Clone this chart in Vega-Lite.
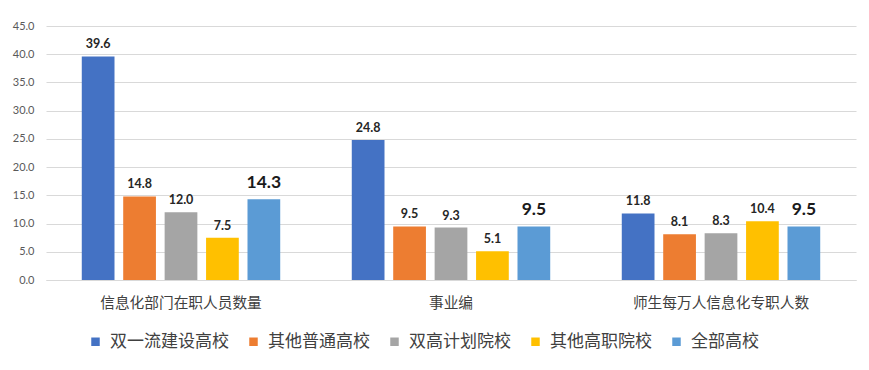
{
  "$schema": "https://vega.github.io/schema/vega-lite/v6.json",
  "autosize": "none",
  "width": 810,
  "height": 254,
  "padding": {"left": 46, "top": 26, "right": 13, "bottom": 90},
  "background": "white",
  "config": {
    "view": {"stroke": null},
    "font": "Noto Sans CJK SC"
  },
  "data": {
    "values": [
      {"category": "信息化部门在职人员数量", "series": "双一流建设高校", "value": 39.6},
      {"category": "信息化部门在职人员数量", "series": "其他普通高校", "value": 14.8},
      {"category": "信息化部门在职人员数量", "series": "双高计划院校", "value": 12.0},
      {"category": "信息化部门在职人员数量", "series": "其他高职院校", "value": 7.5},
      {"category": "信息化部门在职人员数量", "series": "全部高校", "value": 14.3},
      {"category": "事业编", "series": "双一流建设高校", "value": 24.8},
      {"category": "事业编", "series": "其他普通高校", "value": 9.5},
      {"category": "事业编", "series": "双高计划院校", "value": 9.3},
      {"category": "事业编", "series": "其他高职院校", "value": 5.1},
      {"category": "事业编", "series": "全部高校", "value": 9.5},
      {"category": "师生每万人信息化专职人数", "series": "双一流建设高校", "value": 11.8},
      {"category": "师生每万人信息化专职人数", "series": "其他普通高校", "value": 8.1},
      {"category": "师生每万人信息化专职人数", "series": "双高计划院校", "value": 8.3},
      {"category": "师生每万人信息化专职人数", "series": "其他高职院校", "value": 10.4},
      {"category": "师生每万人信息化专职人数", "series": "全部高校", "value": 9.5}
    ]
  },
  "encoding": {
    "x": {
      "field": "category",
      "type": "nominal",
      "sort": null,
      "scale": {"paddingInner": 0.265, "paddingOuter": 0.1325},
      "axis": {
        "title": null,
        "labelAngle": 0,
        "labelFontSize": 14.7,
        "labelColor": "#404040",
        "labelPadding": 15,
        "ticks": false,
        "domain": true,
        "domainColor": "#d9d9d9",
        "labelFont": "Noto Sans CJK SC"
      }
    },
    "xOffset": {
      "field": "series",
      "type": "nominal",
      "sort": ["双一流建设高校", "其他普通高校", "双高计划院校", "其他高职院校", "全部高校"],
      "scale": {"paddingInner": 0.21, "paddingOuter": 0}
    },
    "y": {
      "field": "value",
      "type": "quantitative",
      "scale": {"domain": [0, 45], "nice": false},
      "axis": {
        "title": null,
        "values": [0, 5, 10, 15, 20, 25, 30, 35, 40, 45],
        "format": ".1f",
        "labelFontSize": 11,
        "labelColor": "#595959",
        "labelPadding": 12,
        "labelFont": "Lato",
        "ticks": false,
        "domain": false,
        "gridColor": "#d9d9d9",
        "gridWidth": 1
      }
    }
  },
  "layer": [
    {
      "mark": {"type": "bar"},
      "encoding": {
        "color": {
          "field": "series",
          "type": "nominal",
          "sort": ["双一流建设高校", "其他普通高校", "双高计划院校", "其他高职院校", "全部高校"],
          "scale": {
            "domain": ["双一流建设高校", "其他普通高校", "双高计划院校", "其他高职院校", "全部高校"],
            "range": ["#4472C4", "#ED7D31", "#A5A5A5", "#FFC000", "#5B9BD5"]
          },
          "legend": {
            "title": null,
            "orient": "none",
            "direction": "horizontal",
            "columns": 5,
            "legendX": 41,
            "legendY": 307,
            "padding": 0,
            "symbolType": "square",
            "symbolSize": 72,
            "symbolStrokeWidth": 0,
            "labelFontSize": 17,
            "labelColor": "#404040",
            "labelOffset": 6,
            "columnPadding": 16,
            "labelFont": "Noto Sans CJK SC"
          }
        }
      }
    },
    {
      "transform": [{"filter": "datum.series !== '全部高校'"}],
      "mark": {"type": "text", "dy": -12, "fontWeight": "bold", "color": "#262626", "font": "Lato", "fontSize": 12.5},
      "encoding": {
        "text": {"field": "value", "type": "quantitative", "format": ".1f"}
      }
    },
    {
      "transform": [{"filter": "datum.series === '全部高校'"}],
      "mark": {"type": "text", "dy": -16.5, "fontWeight": "bold", "color": "#1a1a1a", "font": "Lato", "fontSize": 17.5},
      "encoding": {
        "text": {"field": "value", "type": "quantitative", "format": ".1f"}
      }
    }
  ]
}
